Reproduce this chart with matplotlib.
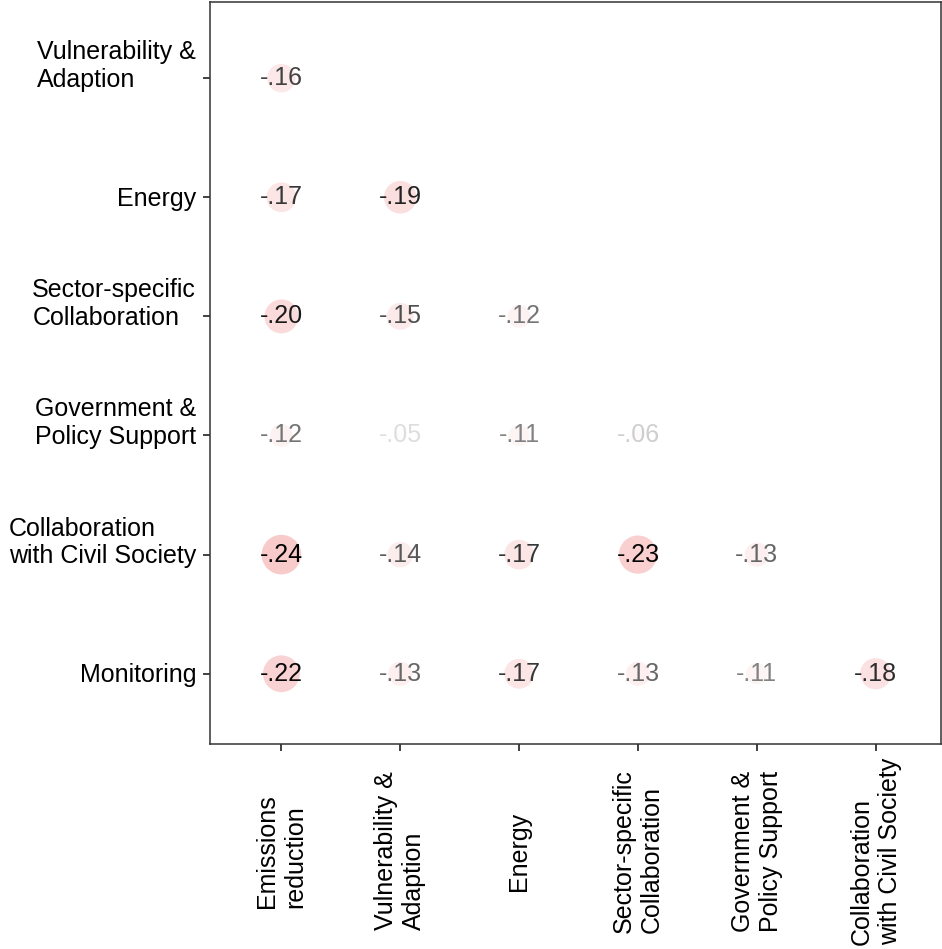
import numpy as np
import matplotlib.pyplot as plt
import matplotlib.transforms as mtransforms

plt.rcParams['font.family'] = ['Liberation Sans', 'DejaVu Sans']

# categorias de columnas (x) y filas (y)
columnas = ["Emissions\nreduction", "Vulnerability &\nAdaption", "Energy",
            "Sector-specific\nCollaboration", "Government &\nPolicy Support",
            "Collaboration\nwith Civil Society"]
filas = ["Vulnerability &\nAdaption", "Energy", "Sector-specific\nCollaboration",
         "Government &\nPolicy Support", "Collaboration\nwith Civil Society",
         "Monitoring"]

# correlaciones (fila por fila, triangulo inferior)
r_vulnerabilidad = [-0.16]
r_energia = [-0.17, -0.19]
r_sector = [-0.20, -0.15, -0.12]
r_gobierno = [-0.12, -0.05, -0.11, -0.06]
r_civil = [-0.24, -0.14, -0.17, -0.23, -0.13]
r_monitoreo = [-0.22, -0.13, -0.17, -0.13, -0.11, -0.18]
valores = [r_vulnerabilidad, r_energia, r_sector, r_gobierno, r_civil, r_monitoreo]

fig, ax = plt.subplots(figsize=(9.42, 9.49), dpi=100)
fig.subplots_adjust(left=0.223, right=0.999, top=0.998, bottom=0.216)

n = len(filas)
rmax = 0.24
for i, fila in enumerate(valores):
    y = n - 1 - i
    for j, r in enumerate(fila):
        t = abs(r) / rmax
        diam_px = 140 * abs(r) + 6
        ax.scatter(j, y, s=(diam_px / 1.389) ** 2,
                   color=(240 / 255, 128 / 255, 128 / 255), alpha=0.41 * t ** 2,
                   edgecolors='none', zorder=2)
        txt = ("-" if r < 0 else "") + f"{abs(r):.2f}"[1:]
        gris = 0.87 * max(0, (rmax - abs(r)) / 0.19) ** 1.4
        ax.text(j, y, txt, ha='center', va='center', fontsize=18,
                color=(gris, gris, gris), zorder=3)

ax.set_xlim(-0.6, 5.55)
ax.set_ylim(-0.59, n - 1 + 0.64)
ax.set_xticks(range(len(columnas)))
ax.set_xticklabels(columnas, rotation=90, ha='center', va='center',
                   multialignment='left', fontsize=18)
ax.set_yticks(range(n))
ax.set_yticklabels(filas[::-1], fontsize=18, va='baseline', multialignment='left')
ax.tick_params(length=5, width=1.3, color='#333333')
ax.tick_params(axis='x', pad=72)
ax.tick_params(axis='y', pad=5)

# bajar un poco las etiquetas del eje y para centrar la ultima linea en el tick
desplazamiento = mtransforms.ScaledTranslation(0, -6.3 / 72, fig.dpi_scale_trans)
for lab in ax.get_yticklabels():
    lab.set_transform(lab.get_transform() + desplazamiento)

for s in ax.spines.values():
    s.set_color('#333333')
    s.set_linewidth(1.1)

fig.savefig('out.png', dpi=100)
